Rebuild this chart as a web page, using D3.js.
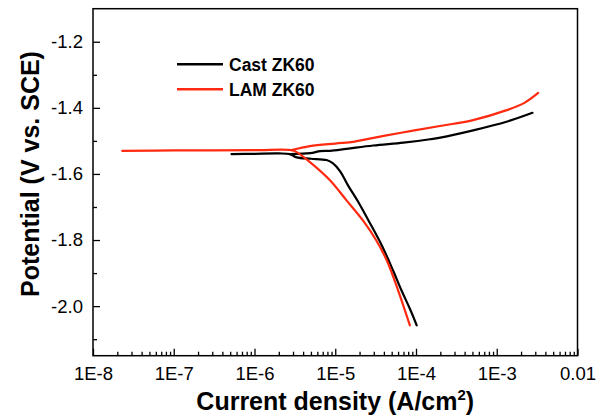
<!DOCTYPE html>
<html>
<head>
<meta charset="utf-8">
<script src="https://cdn.jsdelivr.net/npm/d3@7/dist/d3.min.js"></script>
<style>
  html, body { margin: 0; padding: 0; background: #fff; }
  svg { display: block; font-family: "Liberation Sans", Arial, sans-serif; }
</style>
</head>
<body>
<svg id="chart" width="607" height="418"></svg>
<script>
// ---- data (current density A/cm^2, potential V vs SCE) ----
const xTickValues = [1e-8, 1e-7, 1e-6, 1e-5, 1e-4, 1e-3, 1e-2];
const xTickLabels = ["1E-8", "1E-7", "1E-6", "1E-5", "1E-4", "1E-3", "0.01"];
const yTickValues = [-2.0, -1.8, -1.6, -1.4, -1.2];
const yTickLabels = ["-2.0", "-1.8", "-1.6", "-1.4", "-1.2"];
const yMinorValues = [-2.1, -1.9, -1.7, -1.5, -1.3];
const seriesNames = ["Cast ZK60", "LAM ZK60"];
const seriesColors = ["#000000", "#ff2a10"];

const castCathodic = [
  [5.2e-7, -1.540], [1e-6, -1.539], [2e-6, -1.538], [2.75e-6, -1.540],
  [3.33e-6, -1.550], [5.0e-6, -1.554], [7.8e-6, -1.558], [9.4e-6, -1.568],
  [1.15e-5, -1.592], [1.45e-5, -1.636], [1.92e-5, -1.684], [2.57e-5, -1.740],
  [3.8e-5, -1.818], [5.2e-5, -1.892], [6.6e-5, -1.952], [8.4e-5, -2.008], [1.02e-4, -2.058]
];
const castAnodic = [
  [2.75e-6, -1.540], [4.9e-6, -1.537], [6.5e-6, -1.531], [8.6e-6, -1.530], [1.38e-5, -1.524],
  [2.95e-5, -1.514], [7.0e-5, -1.505], [1.49e-4, -1.495], [2.0e-4, -1.490],
  [5.1e-4, -1.468], [1.32e-3, -1.442], [2.77e-3, -1.415]
];
const lamCathodic = [
  [2.3e-8, -1.530], [1e-7, -1.529], [1e-6, -1.528], [2.88e-6, -1.528],
  [3.33e-6, -1.534], [4.9e-6, -1.565], [8.6e-6, -1.619], [1.38e-5, -1.680],
  [2.19e-5, -1.740], [3.2e-5, -1.800], [4.35e-5, -1.862], [6.0e-5, -1.952], [8.4e-5, -2.058]
];
const lamAnodic = [
  [2.88e-6, -1.528], [4.85e-6, -1.516], [1.0e-5, -1.508], [1.66e-5, -1.503],
  [2.0e-5, -1.499], [6.3e-5, -1.476], [1.98e-4, -1.455], [5.1e-4, -1.437],
  [1.33e-3, -1.407], [2.2e-3, -1.385], [3.26e-3, -1.355]
];

// ---- layout ----
const svg = d3.select("#chart");
const mLeft = 93, mRight = 577.5, mTop = 8.7, mBottom = 355.7;
const x = d3.scaleLog().domain([1e-8, 1e-2]).range([mLeft, mRight]);
const y = d3.scaleLinear().domain([-2.15, -1.1]).range([mBottom, mTop]);

const tickFont = 18.5;

// minor x ticks (2..9 in each decade)
const xMinor = x.ticks().filter(v => !xTickValues.some(t => Math.abs(v - t) / t < 1e-6));

const gx = svg.append("g").attr("transform", `translate(0,${mBottom})`);
gx.call(d3.axisBottom(x).tickValues(xMinor).tickSize(-4).tickFormat(""));
gx.call(g => g.select(".domain").remove());
const gx2 = svg.append("g").attr("transform", `translate(0,${mBottom})`);
gx2.call(d3.axisBottom(x).tickValues(xTickValues).tickSize(-7).tickPadding(11)
  .tickFormat((d, i) => xTickLabels[i]));
gx2.call(g => g.select(".domain").remove());

const gy = svg.append("g").attr("transform", `translate(${mLeft},0)`);
gy.call(d3.axisLeft(y).tickValues(yMinorValues).tickSize(-4).tickFormat(""));
gy.call(g => g.select(".domain").remove());
const gy2 = svg.append("g").attr("transform", `translate(${mLeft},0)`);
gy2.call(d3.axisLeft(y).tickValues(yTickValues).tickSize(-7).tickPadding(10)
  .tickFormat((d, i) => yTickLabels[i]));
gy2.call(g => g.select(".domain").remove());

svg.selectAll(".tick line").attr("stroke", "#000").attr("stroke-width", 1.3);
svg.selectAll(".tick text").attr("font-size", tickFont).attr("fill", "#000")
  .attr("font-family", '"Liberation Sans", Arial, sans-serif');

// frame
svg.append("rect").attr("x", mLeft).attr("y", mTop)
  .attr("width", mRight - mLeft).attr("height", mBottom - mTop)
  .attr("fill", "none").attr("stroke", "#000").attr("stroke-width", 1.5);

// curves
const line = d3.line().x(d => x(d[0])).y(d => y(d[1])).curve(d3.curveCatmullRom.alpha(0.5));
svg.append("defs").append("clipPath").attr("id", "clip")
  .append("rect").attr("x", mLeft).attr("y", mTop).attr("width", mRight - mLeft).attr("height", mBottom - mTop);
const plot = svg.append("g").attr("clip-path", "url(#clip)");
[[castCathodic, 0], [castAnodic, 0], [lamCathodic, 1], [lamAnodic, 1]].forEach(([data, s]) => {
  plot.append("path").datum(data).attr("d", line)
    .attr("fill", "none").attr("stroke", seriesColors[s])
    .attr("stroke-width", 2.2).attr("stroke-linejoin", "round").attr("stroke-linecap", "round");
});

// legend
const legY = [64.3, 89.3];
seriesNames.forEach((name, i) => {
  svg.append("line").attr("x1", 177).attr("x2", 223).attr("y1", legY[i]).attr("y2", legY[i])
    .attr("stroke", seriesColors[i]).attr("stroke-width", 2.5);
  svg.append("text").attr("x", 229).attr("y", legY[i] + 6.3)
    .attr("font-size", 17.5).attr("font-weight", "bold").attr("fill", "#000").text(name);
});

// axis titles
const xt = svg.append("text").attr("x", (mLeft + mRight) / 2).attr("y", 410)
  .attr("text-anchor", "middle").attr("font-size", 25).attr("font-weight", "bold").attr("fill", "#000");
xt.append("tspan").text("Current density (A/cm");
xt.append("tspan").attr("font-size", 15).attr("dy", -10).text("2");
xt.append("tspan").attr("dy", 10).text(")");

svg.append("text").attr("transform", "translate(39,174) rotate(-90)")
  .attr("text-anchor", "middle").attr("font-size", 25).attr("font-weight", "bold").attr("fill", "#000")
  .text("Potential (V vs. SCE)");
</script>
</body>
</html>
